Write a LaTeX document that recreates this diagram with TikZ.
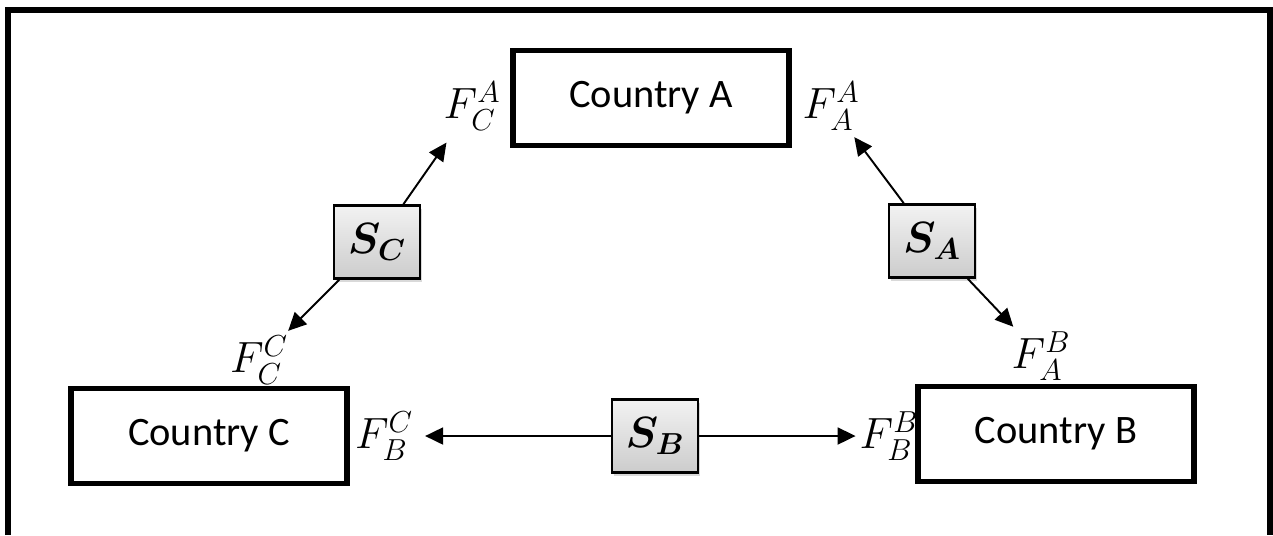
\documentclass[tikz,border=0pt]{standalone}
\usepackage{amsmath}
\usepackage{bm}
\usepackage{fontspec}
\setmainfont{Carlito}
\usetikzlibrary{positioning, arrows.meta, shadows}
\tikzstyle{country} = [
    rectangle, draw, line width=3.2pt,
    minimum width=5.52cm, minimum height=1.9cm,
    font=\fontsize{23}{27}\selectfont
]
\tikzstyle{share} = [
    rectangle, draw, line width=1.5pt,
    minimum width=1.72cm, minimum height=1.46cm,
    top color=gray!10, bottom color=gray!40, % shaded like the original
    drop shadow={opacity=0.3, shadow xshift=0.04cm, shadow yshift=-0.07cm},
    font=\fontsize{27}{31}\selectfont
]
\tikzstyle{flow} = [font=\fontsize{24}{28}\selectfont, inner sep=1pt]
\tikzstyle{link} = [line width=1.1pt, -{Triangle[length=0.36cm, width=0.34cm]}]

\begin{document}
\begin{tikzpicture}[x=0.02cm, y=-0.02cm]
        \useasboundingbox (0,0) rectangle (1273,535);
        % Outer frame (open at the bottom)
        \draw[line width=3.4pt] (8,535) -- (8,10) -- (1269.5,10) -- (1269.5,535);

        % Countries
        \node[country] (ctryA) at (651,98) {Country A};
        \node[country] (ctryC) at (209,436) {Country C};
        \node[country] (ctryB) at (1056,434) {Country B};

        % Shares
        \node[share] (sC) at (377,242) {$\bm{S_C}$};
        \node[share] (sA) at (932,241) {$\bm{S_A}$};
        \node[share] (sB) at (655,436) {$\bm{S_B}$};

        % Flow labels
        \node[flow] (fCA) at (472,106) {$F_C^A$};
        \node[flow] (fCC) at (259,360) {$F_C^C$};
        \node[flow] (fAA) at (831,106) {$F_A^A$};
        \node[flow] (fAB) at (1041,356) {$F_A^B$};
        \node[flow] (fBC) at (384,436) {$F_B^C$};
        \node[flow] (fBB) at (889,436) {$F_B^B$};

        % Arrows from each share to its flows
        \draw[link, shorten >=0.25cm] (sC) -- (fCA);
        \draw[link, shorten >=0.08cm] (sC) -- (fCC);
        \draw[link, shorten >=0.12cm] (sA) -- (fAA);
        \draw[link, shorten >=0.08cm] (sA) -- (fAB);
        \draw[link, shorten >=0.2cm] (sB) -- (fBC);
        \draw[link, shorten >=0.04cm] (sB) -- (fBB);

    \end{tikzpicture}
\end{document}
